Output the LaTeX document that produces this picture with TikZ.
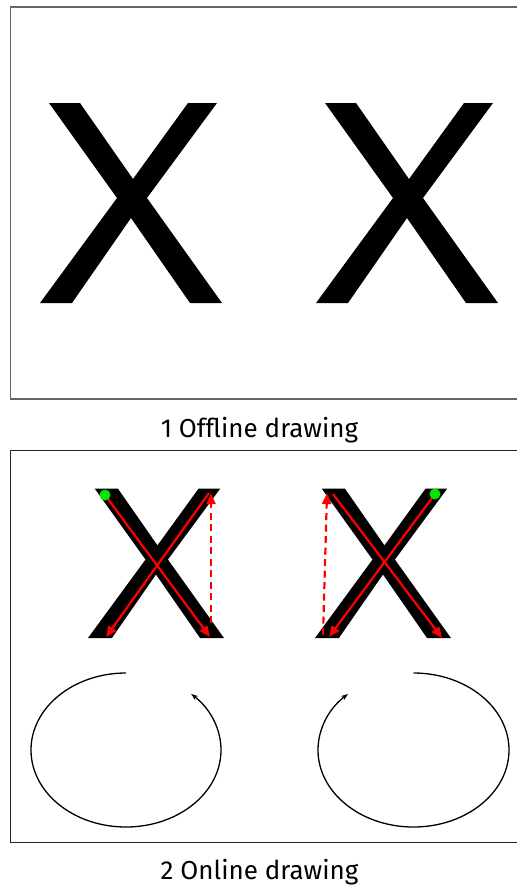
\documentclass[tikz,border=0pt]{standalone}
\usepackage{fontspec}
\setmainfont{Fira Sans}
\usetikzlibrary{arrows.meta,positioning}

\definecolor{dotgreen}{RGB}{0,230,0}

\tikzset{
  glyph x/.pic={
    \fill[black] (9,-200) -- (40,-200) -- (93,-124) -- (148,-200) -- (177,-200)
      -- (107,-105) -- (182,0) -- (150,0) -- (91,-85) -- (32,0) -- (0,0)
      -- (77,-105) -- cycle;
  },
  pen line/.style={red, line width=2.2pt, -{Triangle[length=11pt,width=9pt]}},
  pen jump/.style={pen line, dash pattern=on 7pt off 4.5pt},
  start dot/.style={circle, fill=dotgreen, inner sep=0pt, minimum size=11pt},
  caption/.style={anchor=base, font=\fontsize{26}{31}\selectfont}
}

\begin{document}
\begin{tikzpicture}[x=1pt, y=-1pt, >={Stealth[length=7pt,width=5pt]}]
\useasboundingbox (0,0) rectangle (517,887);

% offline
\draw[line width=1.3pt, black!60] (517,7) -- (10.5,7) -- (10.5,399) -- (517,399);
\foreach \x in {40,316}
  \pic at (\x,303) {glyph x};
\node[caption] (caption-1) at (259.5,437) {1 Offline drawing};

% online
\draw[line width=1.3pt, black!85] (517,450.5) -- (10.5,450.5) -- (10.5,842.5) -- (517,842.5);
\foreach \x in {88,315}
  \pic[scale=0.747] at (\x,638) {glyph x};

\coordinate (top-1) at (105,495);
\coordinate (low-1) at (210,637);
\coordinate (jump-1) at (211,623);
\coordinate (back-1) at (211,493);
\coordinate (high-1) at (209,493);
\coordinate (end-1) at (106,637);

\coordinate (top-2) at (435,494);
\coordinate (low-2) at (329,637);
\coordinate (jump-2) at (323,635);
\coordinate (back-2) at (327,493);
\coordinate (high-2) at (333,494);
\coordinate (end-2) at (442,638);

\foreach \i in {1,2} {
  \draw[pen line] (top-\i) -- (low-\i);
  \draw[pen jump] (jump-\i) -- (back-\i);
  \draw[pen line] (high-\i) -- (end-\i);
  \node[start dot] (dot-\i) at (top-\i) {};
}

\draw[->, line width=1.3pt] (126,673) arc[start angle=270, end angle=-46.7, x radius=95, y radius=77];
\draw[->, line width=1.3pt] (413.5,673) arc[start angle=270, end angle=586.7, x radius=95.5, y radius=77];

\node[caption] (caption-2) at (259.5,879) {2 Online drawing};

\end{tikzpicture}
\end{document}
